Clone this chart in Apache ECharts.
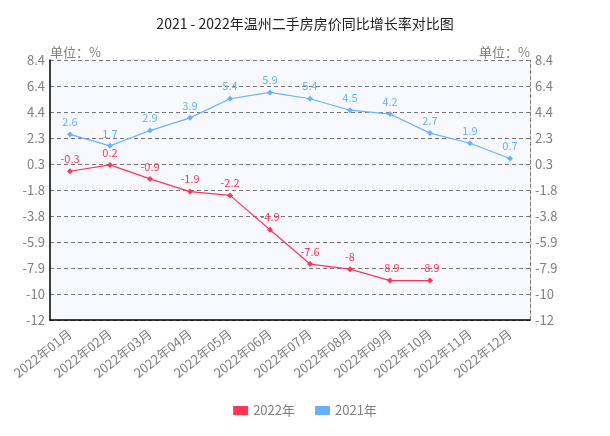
<!DOCTYPE html>
<html>
<head>
<meta charset="utf-8">
<script src="https://cdn.jsdelivr.net/npm/echarts@6/dist/echarts.min.js"></script>
<style>
  html, body { margin: 0; padding: 0; background: #fff; }
  #chart { width: 610px; height: 436px; }
</style>
</head>
<body>
<div id="chart"></div>
<script>
const months = [
  "2022年01月", "2022年02月", "2022年03月", "2022年04月", "2022年05月", "2022年06月",
  "2022年07月", "2022年08月", "2022年09月", "2022年10月", "2022年11月", "2022年12月"
];
const data2022 = [-0.3, 0.2, -0.9, -1.9, -2.2, -4.9, -7.6, -8, -8.9, -8.9, null, null];
const data2021 = [2.6, 1.7, 2.9, 3.9, 5.4, 5.9, 5.4, 4.5, 4.2, 2.7, 1.9, 0.7];
const yTicks = [-12, -9.955, -7.91, -5.865, -3.82, -1.775, 0.27, 2.315, 4.36, 6.405, 8.45];
const yTickLabels = ["-12", "-10", "-7.9", "-5.9", "-3.8", "-1.8", "0.3", "2.3", "4.4", "6.4", "8.4"];

const font = "'Noto Sans CJK SC', 'Liberation Sans', sans-serif";
const grey = "#808080";

let myChart = echarts.init(document.getElementById("chart"));

function yAxisOf(pos) {
  const left = pos === "left";
  return {
    type: "value",
    position: pos,
    min: -12,
    max: 8.45,
    name: "单位：%",
    nameLocation: "end",
    nameGap: 1,
    nameMoveOverlap: false,
    nameTextStyle: {
      color: grey,
      fontSize: 13,
      fontFamily: font,
      align: left ? "left" : "right",
    },
    axisLine: {
      show: true,
      lineStyle: left ? { color: "#000", width: 1.5 } : { color: grey, type: "dashed", width: 1 },
    },
    axisTick: { show: false, customValues: yTicks },
    axisLabel: {
      color: grey,
      fontSize: 13,
      fontFamily: font,
      margin: 5,
      customValues: yTicks,
      formatter: function (v) {
        const i = yTicks.indexOf(v);
        return i >= 0 ? yTickLabels[i] : "";
      },
    },
    splitLine: left
      ? { show: true, lineStyle: { color: "#777", type: [4, 3], width: 1 } }
      : { show: false },
  };
}

let option = {
  animation: false,
  backgroundColor: "#fff",
  title: {
    text: "2021 - 2022年温州二手房房价同比增长率对比图",
    left: "center",
    top: 12,
    textStyle: { color: "#222", fontSize: 14, fontWeight: "normal", fontFamily: font },
  },
  color: ["#ff3653", "#66b2ff"],
  legend: {
    bottom: 14,
    left: "center",
    itemWidth: 15,
    itemHeight: 9,
    itemGap: 20,
    icon: "rect",
    textStyle: { color: grey, fontSize: 13, fontFamily: font },
    data: ["2022年", "2021年"],
  },
  grid: {
    left: 50,
    right: 80,
    top: 60,
    bottom: 116,
    show: true,
    backgroundColor: "#f8f9fe",
    borderWidth: 0,
  },
  xAxis: {
    type: "category",
    boundaryGap: true,
    data: months,
    axisLine: { onZero: false, lineStyle: { color: "#000", width: 1.5 } },
    axisTick: { alignWithLabel: true, length: 4, lineStyle: { color: grey, type: "dotted" } },
    axisLabel: {
      color: grey,
      fontSize: 13,
      fontFamily: font,
      rotate: 38,
      interval: 0,
      margin: 12,
    },
  },
  yAxis: [yAxisOf("left"), yAxisOf("right")],
  series: [
    {
      name: "2022年",
      type: "line",
      data: data2022,
      symbol: "diamond",
      symbolSize: 6,
      lineStyle: { width: 1.2 },
      label: { show: true, position: "top", color: "#ff3653", fontSize: 11, fontFamily: font, distance: 4 },
    },
    {
      name: "2021年",
      type: "line",
      data: data2021,
      symbol: "diamond",
      symbolSize: 6,
      lineStyle: { width: 1.2 },
      label: { show: true, position: "top", color: "#66b2ff", fontSize: 11, fontFamily: font, distance: 4 },
    },
  ],
};
myChart.setOption(option);
</script>
</body>
</html>
